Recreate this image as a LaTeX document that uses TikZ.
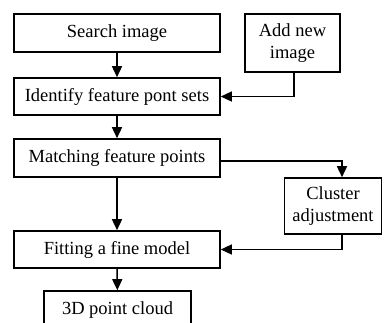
\documentclass[tikz,border=0pt]{standalone}
\usepackage{fontspec}
\setmainfont{Liberation Serif}
\usetikzlibrary{arrows.meta}
\begin{document}
\begin{tikzpicture}[x=1pt,y=-1pt,
  box/.style={draw,line width=1.6pt,rectangle,inner sep=0pt,align=center,
    font=\fontsize{18.5}{22}\selectfont},
  flow/.style={line width=1.5pt,-{Triangle[length=11pt,width=10pt]}}]
  \useasboundingbox (0,0) rectangle (385,322);
  \clip (0,0) rectangle (385,322);
  \node[box,minimum width=206pt,minimum height=38pt] (search) at (117,33) {Search image};
  \node[box,minimum width=95pt,minimum height=58pt] (add) at (292.5,43) {Add new\\image};
  \node[box,minimum width=206pt,minimum height=37pt] (ident) at (117,96.5) {Identify feature pont sets};
  \node[box,minimum width=206pt,minimum height=38pt] (match) at (117,158) {Matching feature points};
  \node[box,minimum width=97pt,minimum height=56pt] (cluster) at (333,206) {Cluster\\adjustment};
  \node[box,minimum width=206pt,minimum height=37pt] (fit) at (117,249.5) {Fitting a fine model};
  \node[box,minimum width=147pt,minimum height=38pt] (cloud) at (117.5,310) {3D point cloud};
  \draw[flow] (search) -- (ident);
  \draw[flow] ([xshift=1.5pt]add.south) |- (ident.east);
  \draw[flow] (ident) -- (match);
  \draw[flow] ([yshift=-3pt]match.east) -| ([xshift=9pt]cluster.north);
  \draw[flow] (match) -- (fit);
  \draw[flow] ([xshift=9pt]cluster.south) |- (fit.east);
  \draw[flow] (fit) -- (cloud);
\end{tikzpicture}
\end{document}
